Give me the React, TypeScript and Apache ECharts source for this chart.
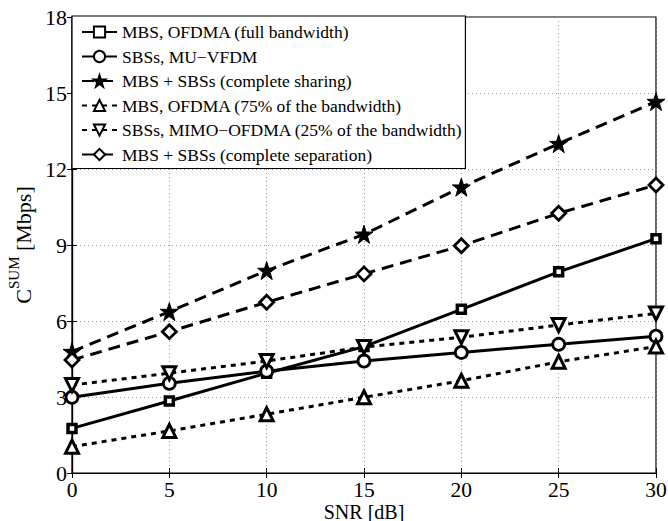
import React, { useEffect, useRef } from "react";
import * as echarts from "echarts";

const snr = [0, 5, 10, 15, 20, 25, 30];

const mbsFull = [1.76, 2.84, 3.94, 4.99, 6.46, 7.94, 9.25];
const sbsVfdm = [2.99, 3.54, 4.02, 4.42, 4.76, 5.08, 5.4];
const sharing = [4.79, 6.37, 7.99, 9.42, 11.28, 13.0, 14.66];
const mbs75 = [1.04, 1.66, 2.32, 2.99, 3.64, 4.39, 4.99];
const sbsMimo25 = [3.47, 3.94, 4.42, 4.97, 5.36, 5.84, 6.3];
const separation = [4.46, 5.58, 6.74, 7.86, 8.97, 10.25, 11.37];

const names = [
  "MBS, OFDMA (full bandwidth)",
  "SBSs, MU\u2212VFDM",
  "MBS + SBSs (complete sharing)",
  "MBS, OFDMA (75% of the bandwidth)",
  "SBSs, MIMO\u2212OFDMA (25% of the bandwidth)",
  "MBS + SBSs (complete separation)",
];

const yTicks = [0, 3, 6, 9, 12, 15, 18];
const xTicks = [0, 5, 10, 15, 20, 25, 30];

const FONT = "Liberation Serif";

export default function App() {
  const ref = useRef<HTMLDivElement>(null);

  useEffect(() => {
    if (!ref.current) return;
    const chart = echarts.init(ref.current, null, { renderer: "svg" });

    const dash = [12, 7];
    const dot = [5, 5];
    const mk = (
      name: string,
      data: number[],
      symbol: string,
      size: number,
      lineType: any,
      filled: boolean,
      bw = 2.5
    ) => ({
      name,
      type: "line",
      data: data.map((v, i) => [snr[i], v]),
      symbol,
      symbolSize: size,
      showSymbol: true,
      lineStyle: { color: "#000", width: 3, type: lineType },
      itemStyle: {
        color: filled ? "#000" : "#fff",
        borderColor: "#000",
        borderWidth: filled ? 1 : bw,
      },
      z: 3,
    });

    chart.setOption({
      animation: false,
      backgroundColor: "#fff",
      textStyle: { fontFamily: FONT },
      grid: {
        left: 72,
        right: 12,
        top: 17,
        bottom: 48,
        outerBoundsMode: "none",
        containLabel: false,
        show: true,
        borderColor: "#000",
        borderWidth: 1.2,
        backgroundColor: "transparent",
      },
      legend: {
        orient: "vertical",
        left: 72,
        top: 16,
        padding: [7, 3, 5, 9],
        itemWidth: 35,
        itemHeight: 14,
        itemGap: 6.5,
        backgroundColor: "#fff",
        borderColor: "#000",
        borderWidth: 1.2,
        borderRadius: 0,
        textStyle: { fontFamily: FONT, fontSize: 17.5, color: "#000" },
        data: names,
      },
      xAxis: [
        {
          type: "value",
          min: 0,
          max: 30,
          interval: 5,
          name: "SNR [dB]",
          nameLocation: "middle",
          nameGap: 29,
          nameMoveOverlap: false,
          nameTextStyle: { fontFamily: FONT, fontSize: 20, lineHeight: 19, color: "#000", verticalAlign: "top" },
          axisLine: { show: true, lineStyle: { color: "#000", width: 1.2 } },
          axisTick: { show: true, inside: true, length: 5, lineStyle: { color: "#000" } },
          axisLabel: {
            fontFamily: FONT,
            fontSize: 21.5,
            lineHeight: 22,
            color: "#000",
            margin: 6,
            formatter: (v: number) => (xTicks.includes(v) ? String(v) : ""),
          },
          splitLine: {
            show: true,
            lineStyle: { color: "#999", type: [1, 3], width: 1 },
          },
        },
        {
          type: "value",
          position: "top",
          min: 0,
          max: 30,
          interval: 5,
          axisLine: { show: true, lineStyle: { color: "#000", width: 1.2 } },
          axisTick: { show: true, inside: true, length: 5, lineStyle: { color: "#000" } },
          axisLabel: { show: false },
          splitLine: { show: false },
        },
      ],
      yAxis: [
        {
          type: "value",
          min: 0,
          max: 18,
          interval: 3,
          name: "{c|C}{s|SUM}{c| [Mbps]}",
          nameLocation: "middle",
          nameGap: 38,
          nameTextStyle: {
            fontFamily: FONT,
            color: "#000",
            rich: {
              c: { fontFamily: FONT, fontSize: 22, color: "#000", verticalAlign: "bottom", lineHeight: 28 },
              s: { fontFamily: FONT, fontSize: 15, color: "#000", verticalAlign: "top", lineHeight: 28 },
            },
          },
          axisLine: { show: true, lineStyle: { color: "#000", width: 1.2 } },
          axisTick: { show: true, inside: true, length: 5, lineStyle: { color: "#000" } },
          axisLabel: {
            fontFamily: FONT,
            fontSize: 22,
            color: "#000",
            margin: 5,
            formatter: (v: number) => (yTicks.includes(v) ? String(v) : ""),
          },
          splitLine: {
            show: true,
            lineStyle: { color: "#999", type: [1, 3], width: 1 },
          },
        },
        {
          type: "value",
          position: "right",
          min: 0,
          max: 18,
          interval: 3,
          axisLine: { show: true, lineStyle: { color: "#000", width: 1.2 } },
          axisTick: { show: true, inside: true, length: 5, lineStyle: { color: "#000" } },
          axisLabel: { show: false },
          splitLine: { show: false },
        },
      ],
      series: [
        mk(names[0], mbsFull, "rect", 8, "solid", false, 3.5),
        mk(names[1], sbsVfdm, "circle", 12, "solid", false, 2.8),
        mk(names[2], sharing, "path://M50,0 L61.8,35.4 L100,35.4 L69.1,57.3 L80.9,95.1 L50,72.4 L19.1,95.1 L30.9,57.3 L0,35.4 L38.2,35.4 Z", 18, dash, true),
        mk(names[3], mbs75, "triangle", 13, dot, false, 3),
        mk(names[4], sbsMimo25, "path://M0,0 L100,0 L50,90 Z", 13, dot, false, 3),
        mk(names[5], separation, "diamond", 14, dash, false, 2.8),
      ],
    });

    return () => chart.dispose();
  }, []);

  return <div ref={ref} style={{ width: 668, height: 521, position: "absolute", left: 0, top: 0 }} />;
}
